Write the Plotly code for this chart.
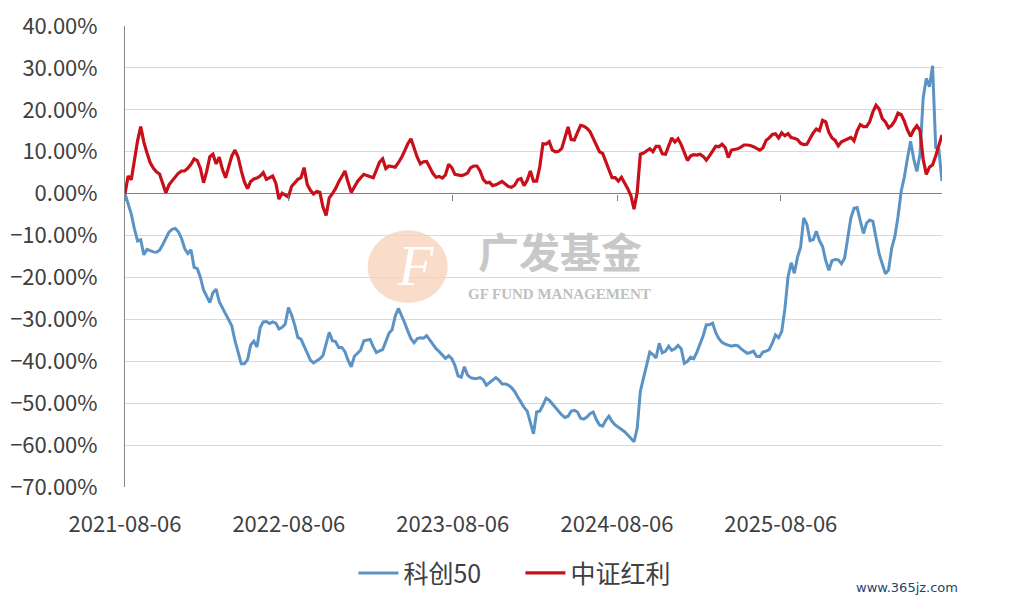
import pandas as pd
import plotly.graph_objects as go

# weekly cumulative return (%) since 2021-08-06
kc50 = [
    0, -2.3, -4.9, -8.4, -11.3, -11.0, -14.6, -13.3, -13.7, -13.9,
    -14.0, -13.5, -12.2, -10.6, -9.2, -8.5, -8.3, -9.1, -10.7, -13.1,
    -14.3, -13.4, -17.6, -17.9, -20.0, -23.0, -24.4, -26.0, -23.6, -22.8,
    -25.8, -27.4, -28.7, -30.1, -31.6, -35.1, -38.1, -40.6, -40.6, -39.6,
    -36.1, -35.2, -36.6, -32.0, -30.6, -30.5, -31.0, -30.6, -30.9, -32.3,
    -31.9, -31.1, -27.2, -28.9, -31.3, -34.3, -34.7, -36.3, -38.2, -39.7,
    -40.4, -40.0, -39.4, -38.6, -35.5, -33.1, -35.1, -35.3, -36.7, -36.7,
    -37.7, -39.8, -41.3, -38.8, -38.1, -37.3, -35.1, -34.9, -34.8, -36.5,
    -37.9, -37.5, -37.2, -35.3, -33.3, -32.5, -29.2, -27.4, -29.0, -30.8,
    -32.8, -34.6, -35.6, -34.6, -34.4, -34.5, -33.9, -35.0, -36.1, -37.0,
    -37.7, -38.6, -39.3, -38.7, -39.4, -41.0, -43.5, -43.8, -41.3, -43.3,
    -43.9, -44.1, -44.1, -43.9, -44.4, -45.7, -45.1, -44.4, -43.9, -44.5,
    -45.4, -45.4, -45.7, -46.3, -47.2, -48.5, -49.8, -51.0, -51.9, -54.4,
    -57.3, -52.1, -51.9, -50.5, -48.8, -49.3, -50.2, -51.2, -52.1, -52.8,
    -53.4, -53.1, -51.9, -51.7, -52.1, -53.6, -53.8, -53.3, -52.5, -52.1,
    -53.9, -55.2, -55.5, -54.1, -53.1, -54.4, -55.2, -55.7, -56.2, -56.8,
    -57.6, -58.3, -59.2, -56.0, -47.2, -44.0, -40.8, -37.8, -38.4, -39.2,
    -35.7, -38.0, -37.6, -36.4, -37.4, -37.0, -36.2, -37.0, -40.5, -40.0,
    -39.0, -39.4, -37.8, -35.9, -33.9, -31.3, -31.3, -30.9, -33.2, -34.6,
    -35.5, -35.9, -36.2, -36.4, -36.2, -36.3, -37.0, -37.6, -38.1, -37.9,
    -37.6, -38.8, -38.9, -37.8, -37.6, -37.2, -35.7, -33.7, -34.4, -32.9,
    -27.5, -19.9, -16.5, -19.0, -15.2, -12.8, -5.8, -7.3, -11.2, -11.0,
    -9.0, -11.2, -12.6, -16.0, -18.3, -16.0, -15.7, -15.8, -16.7, -15.4,
    -11.0, -5.8, -3.5, -3.3, -6.5, -9.5, -7.0, -6.3, -6.6, -10.8,
    -14.4, -16.8, -19.1, -18.2, -13.0, -10.2, -5.5, 0.5, 3.9, 8.4,
    12.5, 8.3, 5.3, 9.4, 22.8, 27.5, 25.5, 30.5, 11.0, 10.5,
    3.0,
]

hongli = [
    0, 4.2, 3.3, 8.2, 12.6, 16.0, 12.3, 9.7, 7.4, 6.1,
    5.2, 4.7, 2.7, 0.2, 2.1, 3.1, 3.9, 4.9, 5.4, 5.4,
    6.1, 7.0, 8.3, 7.9, 6.0, 2.6, 5.3, 8.8, 9.4, 7.1,
    8.7, 5.8, 3.8, 6.3, 9.0, 10.4, 8.7, 5.5, 2.8, 1.2,
    2.9, 3.5, 3.7, 4.2, 5.0, 3.4, 3.8, 4.2, 2.5, -1.3,
    0.1, -0.4, -0.8, 1.7, 2.6, 3.4, 3.8, 6.2, 2.2, 0.8,
    -0.1, 0.5, 0.3, -3.2, -5.2, -1.0, 0.0, 1.2, 2.8, 4.1,
    5.4, 2.7, 0.3, 1.6, 2.9, 3.8, 4.6, 4.3, 4.1, 3.8,
    5.6, 7.5, 8.3, 6.0, 6.6, 6.4, 6.3, 7.4, 8.6, 10.2,
    11.9, 13.1, 10.7, 8.7, 7.1, 7.6, 7.7, 6.3, 4.8, 3.9,
    4.1, 3.7, 4.5, 7.0, 6.2, 4.6, 4.4, 4.3, 4.5, 4.9,
    6.2, 6.6, 6.6, 5.4, 3.4, 2.6, 2.7, 1.9, 2.1, 2.6,
    2.9, 2.3, 1.7, 1.5, 2.0, 3.3, 3.6, 1.9, 3.2, 5.4,
    3.0, 3.0, 6.4, 11.9, 11.8, 12.4, 10.4, 10.0, 10.1, 10.8,
    13.6, 15.9, 12.9, 12.8, 14.6, 16.3, 16.1, 15.6, 14.8, 13.1,
    11.5, 10.0, 9.6, 7.7, 5.4, 3.8, 3.8, 3.0, 3.9, 2.7,
    1.2, -0.5, -3.7, 0.3, 9.4, 9.7, 10.1, 10.7, 10.0, 11.3,
    11.3, 9.5, 9.4, 11.6, 13.3, 12.3, 13.1, 11.7, 9.6, 7.9,
    9.0, 9.3, 9.2, 9.4, 8.9, 8.0, 9.0, 10.2, 11.3, 11.2,
    11.8, 11.0, 8.6, 10.4, 10.6, 10.7, 11.1, 11.6, 11.6, 11.5,
    11.2, 10.9, 10.4, 10.9, 12.7, 13.3, 14.1, 14.3, 13.3, 14.5,
    13.8, 14.3, 13.4, 13.2, 12.9, 12.0, 11.7, 11.8, 13.3, 14.5,
    15.4, 15.0, 17.5, 17.1, 14.6, 13.3, 12.7, 11.4, 12.4, 12.7,
    13.1, 13.4, 12.6, 15.0, 16.5, 16.0, 16.0, 17.2, 19.5, 21.1,
    20.2, 17.9, 17.1, 15.7, 16.3, 17.4, 19.2, 18.9, 17.3, 15.2,
    13.7, 15.2, 16.2, 15.1, 8.2, 4.6, 6.3, 6.9, 9.0, 11.5,
    14.0,
]

dates = pd.date_range("2021-08-06", periods=len(kc50), freq="7D")
tick_dates = ["2021-08-06", "2022-08-06", "2023-08-06", "2024-08-06", "2025-08-06"]

Y_MIN, Y_MAX = -70, 40
FONT = "Noto Sans CJK SC"
BLUE = "#5B93C4"
RED = "#C8101A"

fig = go.Figure()
fig.add_trace(go.Scatter(x=dates, y=kc50, mode="lines", name="科创50",
                         line=dict(color=BLUE, width=3)))
fig.add_trace(go.Scatter(x=dates, y=hongli, mode="lines", name="中证红利",
                         line=dict(color=RED, width=3.2)))
# invisible copy so the tick marks on the zero line get drawn
fig.add_trace(go.Scatter(x=dates, y=hongli, mode="lines", xaxis="x2",
                         line=dict(width=0), opacity=0, showlegend=False,
                         hoverinfo="skip"))

# watermark
fig.add_shape(type="circle", xref="paper", yref="paper",
              x0=0.297, x1=0.395, y0=0.399, y1=0.557,
              fillcolor="#F6C4A6", opacity=0.6, line=dict(width=0),
              layer="below")
fig.add_annotation(text="<i>F</i>", xref="paper", yref="paper", x=0.355, y=0.48,
                   showarrow=False, font=dict(family="Liberation Serif", size=58, color="white"))
fig.add_annotation(text="<b>广发基金</b>", xref="paper", yref="paper", x=0.532, y=0.515,
                   showarrow=False, font=dict(family=FONT, size=41, color="#C8C8C8"))
fig.add_annotation(text="<b>GF FUND MANAGEMENT</b>", xref="paper", yref="paper",
                   x=0.532, y=0.418, showarrow=False,
                   font=dict(family="Liberation Serif", size=15, color="#C0C0C0"))
fig.add_annotation(text="www.365jz.com", xref="paper", yref="paper", x=1.022, y=-0.239,
                   showarrow=False, font=dict(family="DejaVu Sans", size=13, color="#22446E"))

fig.update_layout(
    width=1024, height=612,
    margin=dict(l=125, r=82, t=26, b=125),
    paper_bgcolor="white", plot_bgcolor="white",
    font=dict(family=FONT, size=22, color="#404040"),
    showlegend=True,
    legend=dict(orientation="h", x=0.484, xanchor="center", y=-0.187, yanchor="middle",
                font=dict(family=FONT, size=25, color="#404040"), itemwidth=40,
                entrywidth=112),
    xaxis=dict(type="date", range=[dates[0], dates[-1]], tickvals=tick_dates,
               ticktext=tick_dates, showgrid=False, showline=False, zeroline=False,
               ticks="", ticklabelstandoff=22, automargin=False),
    xaxis2=dict(type="date", overlaying="x", matches="x", anchor="free",
                position=(0 - Y_MIN) / (Y_MAX - Y_MIN), side="bottom",
                tickvals=tick_dates, showticklabels=False, ticks="outside",
                ticklen=6, tickcolor="#808080", showgrid=False, showline=False,
                zeroline=False),
    yaxis=dict(range=[Y_MIN, Y_MAX], dtick=10, tickformat=".2f", ticksuffix="%",
               showgrid=True, gridcolor="#D9D9D9", gridwidth=1,
               showline=True, linecolor="#868686", linewidth=1,
               zeroline=True, zerolinecolor="#808080", zerolinewidth=1,
               ticks="", ticklabelstandoff=22, automargin=False),
)

fig.write_html("out.html", config={"displayModeBar": False},
               post_script="document.body.style.margin = '0px';")
